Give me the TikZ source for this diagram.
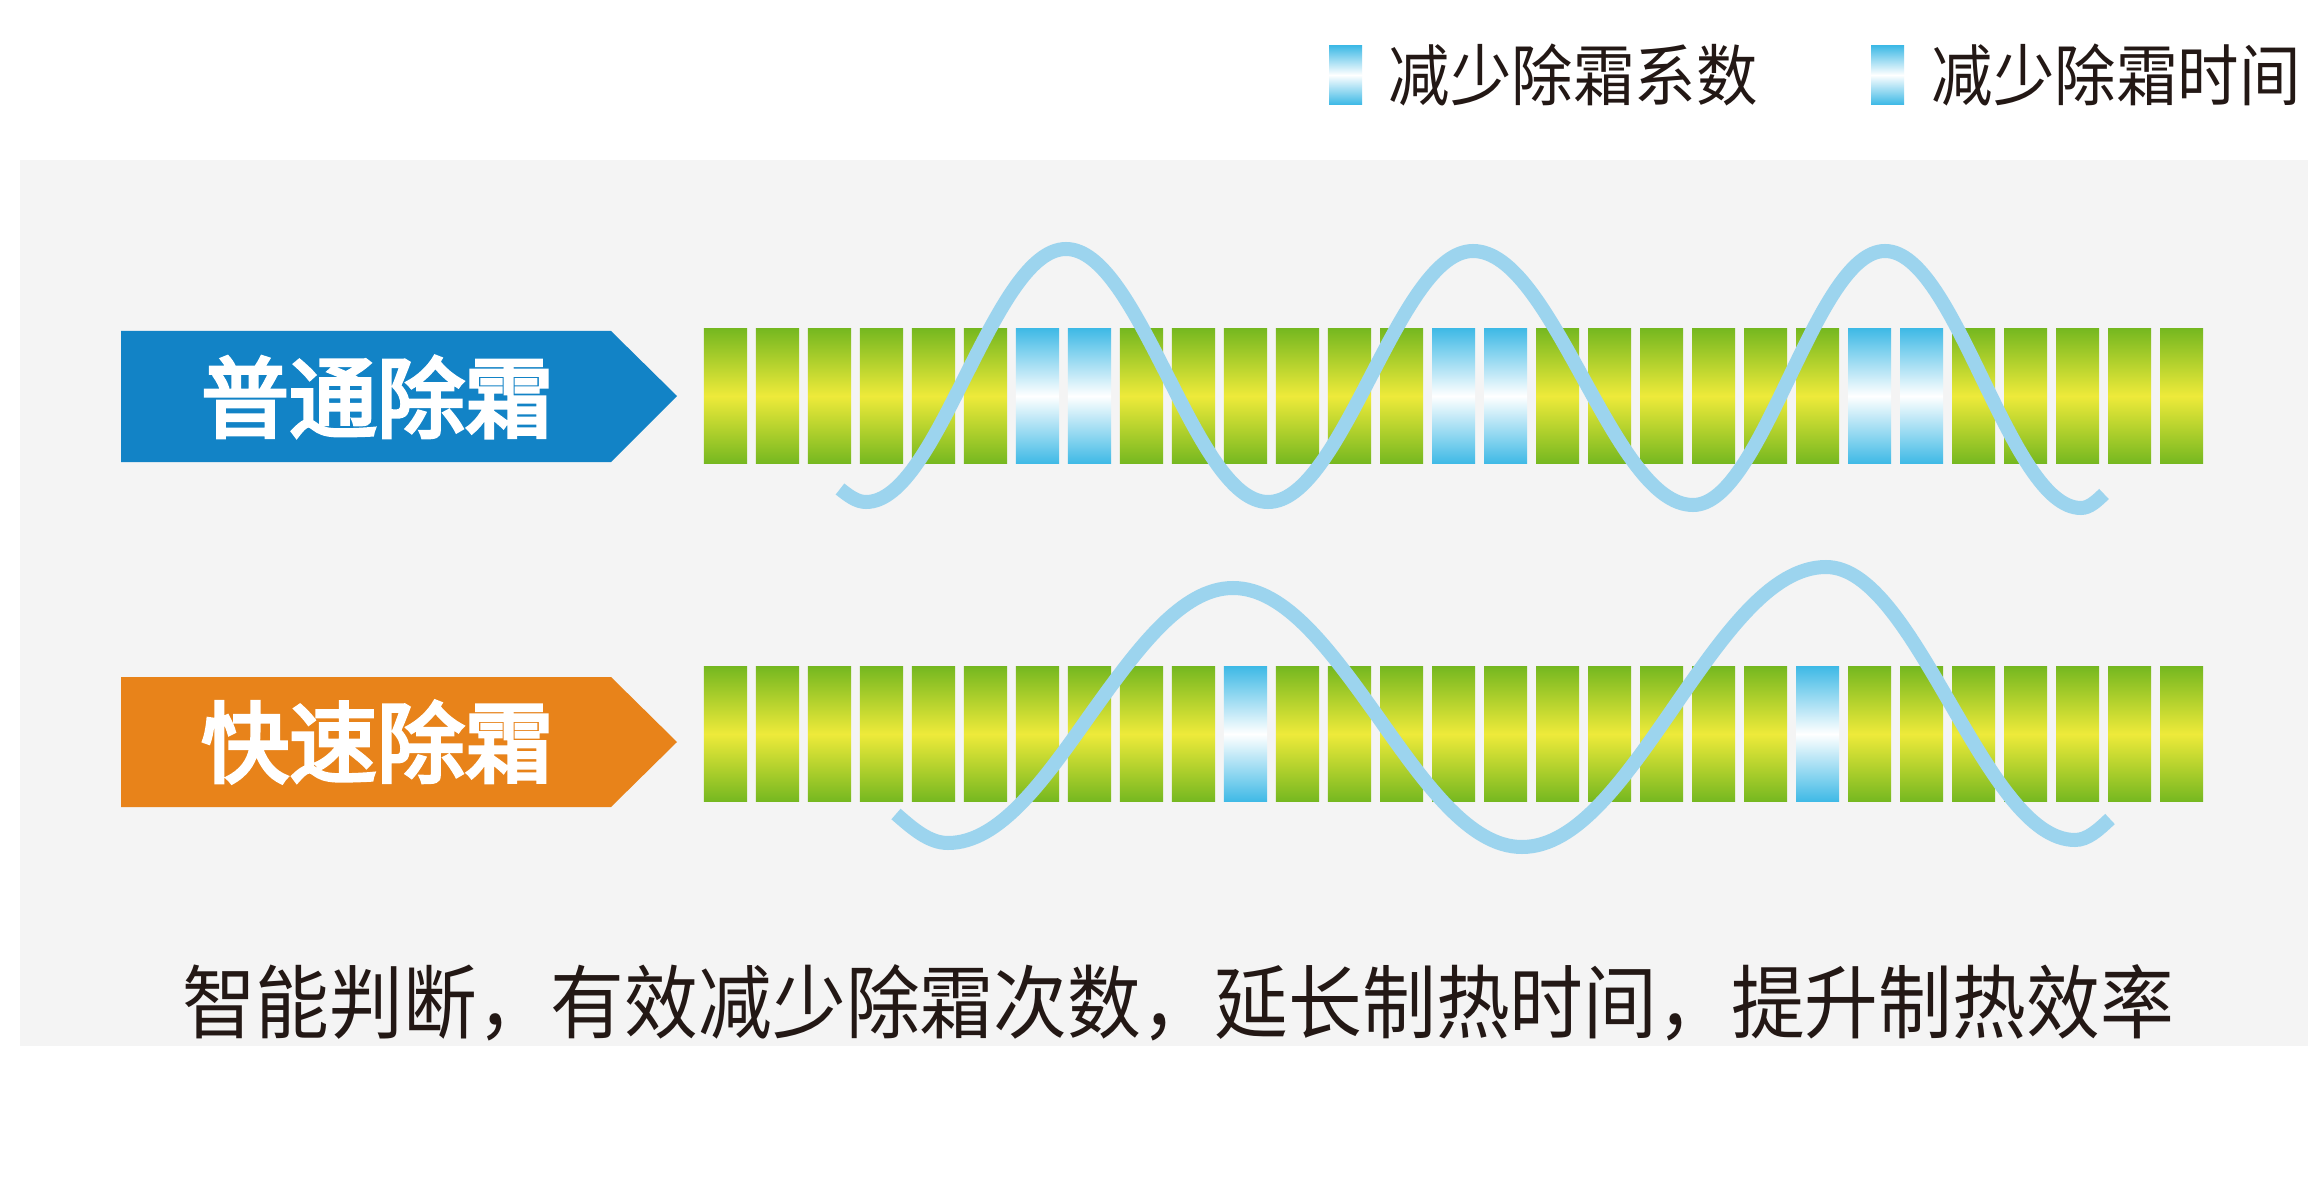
\documentclass[tikz,border=0pt]{standalone}
\usepackage{fontspec}
\newfontfamily\cjk[FakeBold=4]{Noto Sans CJK SC}
\newfontfamily\cjknarrow[FakeStretch=0.92]{Noto Sans CJK SC}
\definecolor{panelGray}{HTML}{F4F4F4}
\definecolor{normalBlue}{HTML}{1283C6}
\definecolor{fastOrange}{HTML}{E8831A}
\definecolor{barGreen}{HTML}{76B820}
\definecolor{barYellow}{HTML}{EEEA3A}
\definecolor{barBlue}{HTML}{40BAE6}
\definecolor{waveBlue}{HTML}{9CD4EE}
\definecolor{inkDark}{HTML}{231815}

\begin{document}
\begin{tikzpicture}[x=0.01cm,y=-0.01cm]
                \tikzstyle{greenbar}=[rectangle,inner sep=0pt,minimum width=0.43cm,minimum height=1.34cm,top color=barGreen,bottom color=barGreen,middle color=barYellow]
                \tikzstyle{bluebar}=[rectangle,inner sep=0pt,minimum width=0.43cm,minimum height=1.34cm,top color=barBlue,bottom color=barBlue,middle color=white]
                \tikzstyle{keybox}=[rectangle,inner sep=0pt,minimum width=0.33cm,minimum height=0.58cm,top color=barBlue,bottom color=barBlue,middle color=white]
                \tikzstyle{keytext}=[anchor=west,inner sep=0pt,text=inkDark,font=\cjknarrow\fontsize{19}{21}\selectfont]
                \tikzstyle{tag}=[text=white,inner sep=0pt,font=\cjk\fontsize{25}{28}\selectfont]
                \tikzstyle{wave}=[draw=waveBlue,line width=0.14cm]
                \useasboundingbox (0,0) rectangle (2308,1188);
                \fill[white] (0,0) rectangle (2308,1188);
                \fill[panelGray] (20,160) rectangle (2308,1046);

                \node[keybox] (key-1) at (1345.5,75) {};
                \node[keytext] (key-1-txt) at (1388,75) {减少除霜系数};
                \node[keybox] (key-2) at (1887.5,75) {};
                \node[keytext] (key-2-txt) at (1931,75) {减少除霜时间};

                \fill[normalBlue] (121,331) -- (611,331) -- (677,396) -- (611,462) -- (121,462) -- cycle;
                \node[tag] (normal) at (377,397) {普通除霜};
                \fill[fastOrange] (121,677) -- (611,677) -- (677,742) -- (611,807) -- (121,807) -- cycle;
                \node[tag] (fast) at (377,742) {快速除霜};

                \foreach \i in {0,...,28} {
                    \pgfmathtruncatemacro{\r}{mod(\i,8)}
                    \ifnum\r>5 \def\kind{bluebar}\else\def\kind{greenbar}\fi
                    \node[\kind] (T-\i) at (725.5+52*\i,396) {};
                }
                \foreach \i in {0,...,28} {
                    \ifnum\i=10 \def\kind{bluebar}\else\ifnum\i=21 \def\kind{bluebar}\else\def\kind{greenbar}\fi\fi
                    \node[\kind] (B-\i) at (725.5+52*\i,734) {};
                }

                \draw[wave] (840,489) sin (866,502) cos (966,375) sin (1066,249) cos (1167,375) sin (1268,502) cos (1371,376) sin (1473,251) cos (1583,378) sin (1693,505) cos (1789,378) sin (1885,251) cos (1983,380) sin (2081,508) cos (2104,494);
                \draw[wave] (896,814) sin (948,843) cos (1090,715) sin (1233,588) cos (1378,717) sin (1522,847) cos (1674,707) sin (1826,567) cos (1950,703) sin (2075,840) cos (2110,819);

                \node[text=inkDark,inner sep=0pt,font=\cjknarrow\fontsize{22.8}{25}\selectfont] (caption) at (1178,1003) {智能判断，有效减少除霜次数，延长制热时间，提升制热效率};
            \end{tikzpicture}
\end{document}
